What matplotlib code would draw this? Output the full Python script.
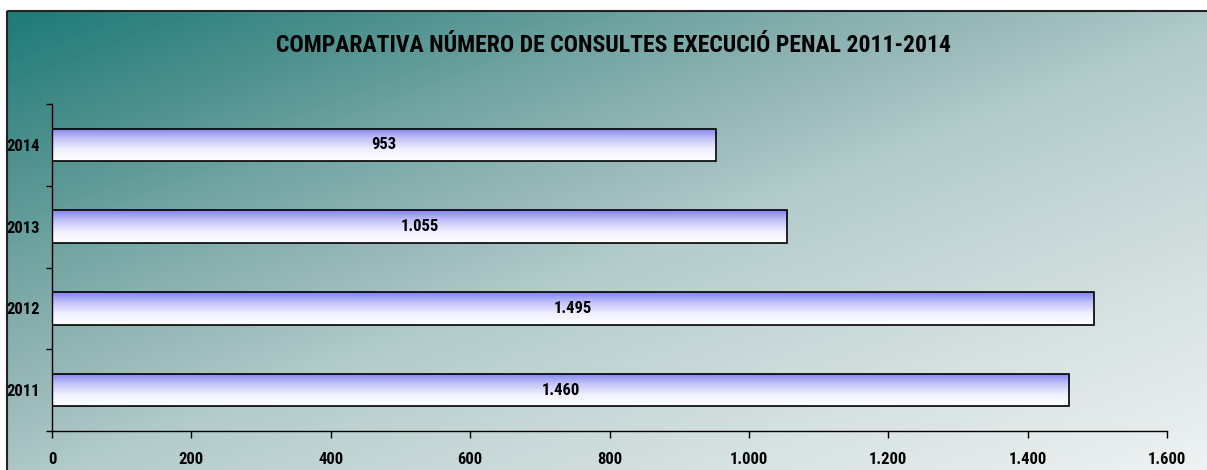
import numpy as np
import matplotlib
matplotlib.use("Agg")
import matplotlib.pyplot as plt
from matplotlib.colors import LinearSegmentedColormap
from matplotlib.patches import Rectangle
from matplotlib.ticker import FuncFormatter, MultipleLocator

years = ["2011", "2012", "2013", "2014"]
values = [1460, 1495, 1055, 953]
title = "COMPARATIVA NÚMERO DE CONSULTES EXECUCIÓ PENAL 2011-2014"

FONT = ["Roboto Condensed", "Liberation Sans", "DejaVu Sans"]
plt.rcParams["font.family"] = FONT

W, H = 1207, 470
fig = plt.figure(figsize=(W / 100, H / 100), dpi=100)
fig.patch.set_facecolor("white")

# background gradient panel
bg = fig.add_axes([0, 0, 1, 1], zorder=0)
bg.set_xlim(0, W)
bg.set_ylim(H, 0)
bg.axis("off")
xx, yy = np.meshgrid(np.linspace(0, 1, 300), np.linspace(0, 1, 120))
t = np.clip(0.5 * xx + 0.5 * yy, 0, 1)
bg_cmap = LinearSegmentedColormap.from_list(
    "bgc", [(0.0, "#1e7b78"), (0.15, "#4a8f8c"), (0.3, "#78a8a6"),
            (0.44, "#9ebcbc"), (0.53, "#b4cccc"), (0.75, "#d2dede"),
            (1.0, "#eef2f2")])
bg.imshow(t, cmap=bg_cmap, extent=[7, W + 2, H + 2, 11], aspect="auto",
          interpolation="bilinear")
bg.add_patch(Rectangle((7, 11), W, H, fill=False, edgecolor="#222222",
                       linewidth=1.5))

ax = fig.add_axes([52 / W, 1 - 431 / H, (1167 - 52) / W, (431 - 104) / H],
                  zorder=1)
ax.patch.set_alpha(0)
ypos = np.arange(len(years))
bars = ax.barh(ypos, values, height=0.4, facecolor="none",
               edgecolor="black", linewidth=1.2, zorder=3)

bar_cmap = LinearSegmentedColormap.from_list(
    "barc", [(0.0, "#ffffff"), (0.35, "#f0f0ff"), (0.7, "#c0c0f8"), (1.0, "#8282ee")])
grad = np.linspace(0, 1, 100).reshape(-1, 1)
for b in bars:
    x0, y0 = b.get_x(), b.get_y()
    w, h = b.get_width(), b.get_height()
    im = ax.imshow(grad, cmap=bar_cmap, extent=[x0, x0 + w, y0, y0 + h],
                   aspect="auto", origin="lower", zorder=2,
                   interpolation="bilinear")
    im.set_clip_path(b)
for b, v in zip(bars, values):
    ax.text(v / 2, b.get_y() + b.get_height() / 2,
            f"{v:,}".replace(",", "."), ha="center", va="center",
            fontsize=12, fontweight="bold", color="black", zorder=4)

ax.set_xlim(0, 1600)
ax.set_ylim(-0.5, len(years) - 0.5)
ax.xaxis.set_major_locator(MultipleLocator(200))
ax.xaxis.set_major_formatter(FuncFormatter(lambda v, p: f"{int(v):,}".replace(",", ".")))
ax.set_yticks(ypos)
ax.set_yticklabels(years)
ax.set_yticks(np.arange(-0.5, len(years), 1.0), minor=True)
ax.tick_params(axis="y", which="major", length=0, pad=9)
ax.tick_params(axis="y", which="minor", length=4, width=1, direction="out")
ax.tick_params(axis="x", length=5, width=1, direction="out", pad=10)
for lab in ax.get_xticklabels() + ax.get_yticklabels():
    lab.set_fontweight("bold")
    lab.set_fontsize(12)
for s in ["top", "right"]:
    ax.spines[s].set_visible(False)
ax.spines["left"].set_linewidth(1)
ax.spines["bottom"].set_linewidth(1)

fig.text(613 / W, 1 - 45 / H, title, ha="center", va="center",
         fontsize=17, fontweight="bold", color="black")

fig.savefig("out.png", dpi=100)
